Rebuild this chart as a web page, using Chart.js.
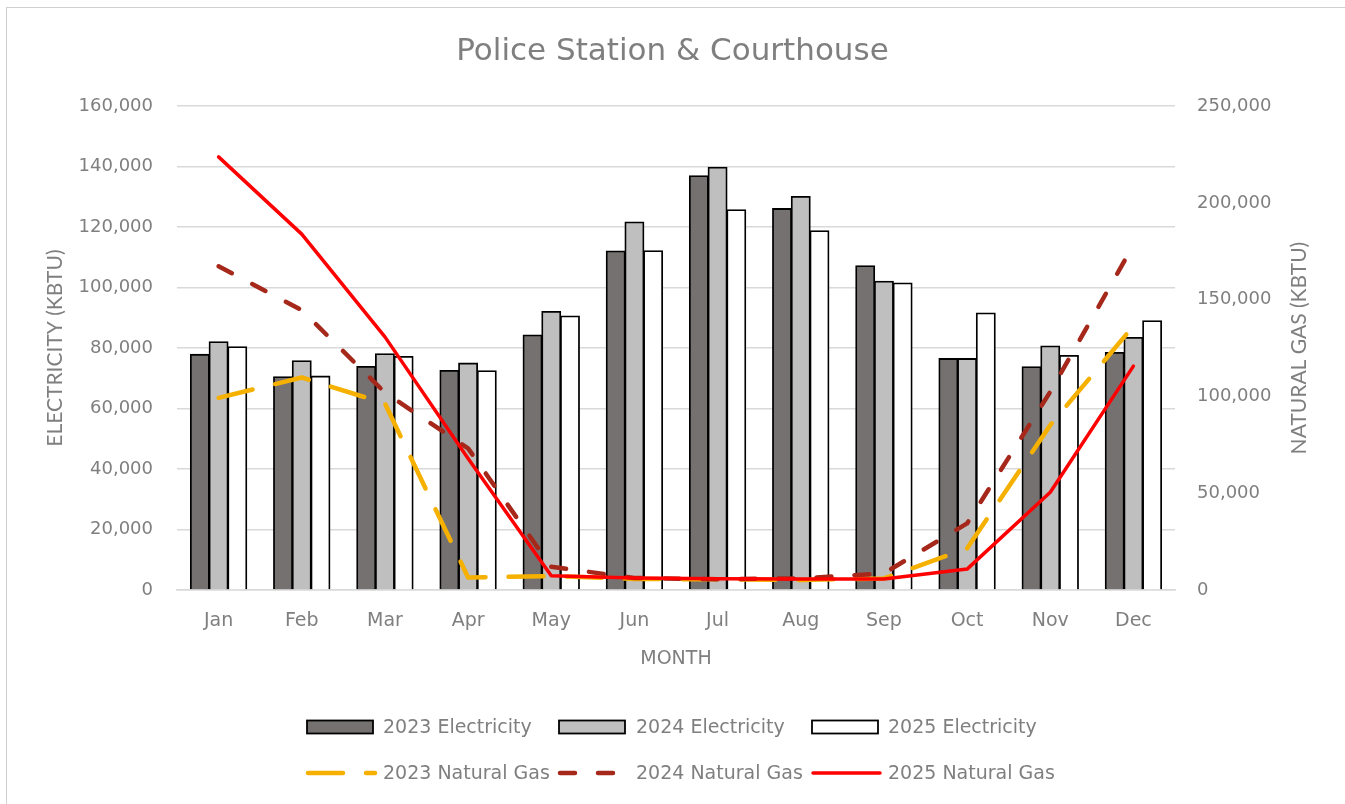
<!DOCTYPE html>
<html>
<head>
<meta charset="utf-8">
<title>Police Station &amp; Courthouse</title>
<script src="https://cdn.jsdelivr.net/npm/chart.js@4/dist/chart.umd.min.js"></script>
<style>
html,body{margin:0;padding:0;background:#fff;overflow:hidden}
#frame{position:absolute;left:6px;top:7px;width:1400px;height:900px;border:1px solid #D0D0D0}
#wrap{position:absolute;left:0;top:0;width:1345px;height:804px}
</style>
</head>
<body>
<div id="frame"></div>
<div id="wrap"><canvas id="chart"></canvas></div>
<script>
// values (kBTU)
const months = ['Jan','Feb','Mar','Apr','May','Jun','Jul','Aug','Sep','Oct','Nov','Dec'];
const elec2023 = [77900, 70500, 73900, 72600, 84300, 112100, 137000, 126100, 107200, 76500, 73800, 78500];
const elec2024 = [82100, 75800, 78100, 75000, 92100, 121700, 139800, 130100, 102100, 76500, 80700, 83500];
const elec2025 = [80400, 70700, 77200, 72500, 90600, 112200, 125700, 118800, 101500, 91600, 77500, 89000];
const gas2023 = [99300, 109800, 96400, 6500, 7200, 5700, 5500, 5200, 6000, 21500, 85200, 136400];
const gas2024 = [167300, 144600, 102000, 73200, 12000, 6200, 5600, 6000, 8600, 34400, 102400, 178200];
const gas2025 = [223800, 183900, 130800, 68000, 7400, 6200, 5800, 5700, 5700, 10800, 50500, 115700];
const elecTicks = {max:160000, step:20000};
const gasTicks = {max:250000, step:50000};

const TXT = '#7F7F7F';
const GRID = '#D9D9D9';
const WIDE = '"DejaVu Sans", Verdana, sans-serif';
const NARROW = '"Liberation Sans Narrow", "Arial Narrow", Lato, sans-serif';

const bar = (label, data, color)=>({
  type:'bar', label, data, backgroundColor:color, borderColor:'#000', borderWidth:1.8,
  inflateAmount:0.6, yAxisID:'y', order:3, barPercentage:1, categoryPercentage:0.675
});
const line = (label, data, color, width, dash, order)=>({
  type:'line', label, data, borderColor:color, backgroundColor:color, borderWidth:width,
  borderDash:dash, borderCapStyle:'round', borderJoinStyle:'round', pointRadius:0,
  tension:0, yAxisID:'y2', order
});

// legend grid like the spreadsheet one: 3 columns x 2 rows
const legendCols = [{sym:307, txt:383}, {sym:559, txt:636}, {sym:812, txt:888}];
const legendRows = [727, 773];

const sheetLegend = {
  id:'sheetLegend',
  afterDraw(chart){
    const ctx = chart.ctx;
    ctx.save();
    ctx.font = '19px ' + WIDE;
    ctx.textBaseline = 'middle';
    ctx.textAlign = 'left';
    chart.data.datasets.forEach((ds,i)=>{
      const y = legendRows[ds.type==='line' ? 1 : 0];
      const c = legendCols[i % 3];
      if(ds.type==='line'){
        ctx.beginPath();
        ctx.strokeStyle = ds.borderColor;
        ctx.lineWidth = ds.borderWidth;
        ctx.lineCap = 'round';
        ctx.setLineDash(ds.borderDash);
        ctx.moveTo(c.sym+1, y); ctx.lineTo(c.sym+68, y);
        ctx.stroke();
        ctx.setLineDash([]);
      }else{
        ctx.fillStyle = ds.backgroundColor;
        ctx.fillRect(c.sym, y-6.5, 66, 13);
        ctx.strokeStyle = ds.borderColor;
        ctx.lineWidth = 1.8;
        ctx.strokeRect(c.sym, y-6.5, 66, 13);
      }
      ctx.fillStyle = TXT;
      ctx.fillText(ds.label, c.txt, y+1);
    });
    // right axis title reads bottom-to-top like the left one
    const a = chart.chartArea;
    ctx.translate(1299, (a.top+a.bottom)/2);
    ctx.rotate(-Math.PI/2);
    ctx.textAlign = 'center';
    ctx.font = '21px ' + NARROW;
    ctx.fillText('NATURAL GAS (KBTU)', 0, 0);
    ctx.restore();
  }
};

new Chart(document.getElementById('chart'), {
  data:{
    labels:months,
    datasets:[
      bar('2023 Electricity', elec2023, '#767171'),
      bar('2024 Electricity', elec2024, '#BFBFBF'),
      bar('2025 Electricity', elec2025, '#FFFFFF'),
      line('2023 Natural Gas', gas2023, '#F5B000', 4.5, [35,23], 2),
      line('2024 Natural Gas', gas2024, '#A5281B', 4.5, [15,23], 1),
      line('2025 Natural Gas', gas2025, '#FF0000', 3.5, [], 0)
    ]
  },
  options:{
    responsive:true, maintainAspectRatio:false, animation:false, locale:'en-US',
    layout:{padding:{left:0, right:0, top:0, bottom:134}},
    plugins:{
      legend:{display:false},
      tooltip:{enabled:false},
      title:{display:true, text:'Police Station & Courthouse', color:TXT,
        font:{family:WIDE, size:31, weight:'normal'}, padding:{top:33, bottom:36}}
    },
    scales:{
      x:{
        grid:{display:false, drawTicks:false},
        border:{display:true, color:GRID, width:1.5},
        ticks:{color:TXT, font:{family:WIDE, size:19}, padding:20},
        title:{display:true, text:'MONTH', color:TXT, font:{family:WIDE, size:19}, padding:{top:0, bottom:0}},
        afterFit:(s)=>{ s.height = 80; }
      },
      y:{
        position:'left', min:0, max:elecTicks.max,
        ticks:{stepSize:elecTicks.step, color:TXT, font:{family:WIDE, size:18}, padding:24},
        grid:{color:GRID, lineWidth:1.5, drawTicks:false},
        border:{display:false},
        title:{display:true, text:'ELECTRICITY (KBTU)', color:TXT, font:{family:NARROW, size:21}, padding:{top:43, bottom:0}},
        afterFit:(s)=>{ s.width = 177; }
      },
      y2:{
        position:'right', min:0, max:gasTicks.max,
        ticks:{stepSize:gasTicks.step, color:TXT, font:{family:WIDE, size:18}, padding:22},
        grid:{display:false, drawTicks:false},
        border:{display:false},
        afterFit:(s)=>{ s.width = 170; }
      }
    }
  },
  plugins:[sheetLegend]
});
</script>
</body>
</html>
